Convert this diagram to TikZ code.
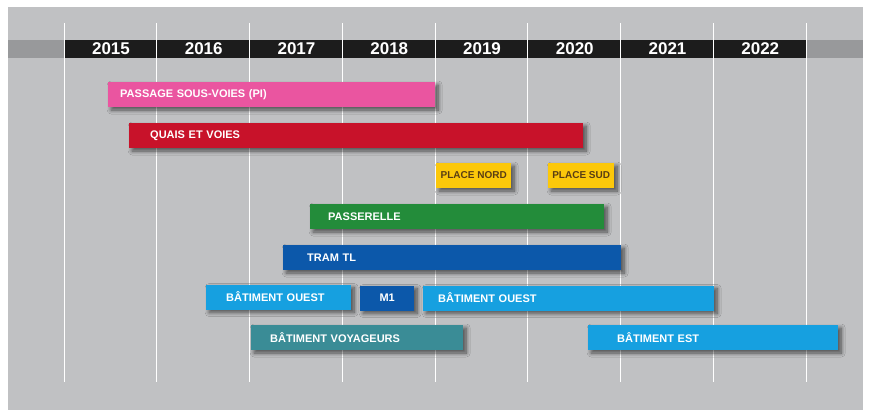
\documentclass[tikz,border=0pt]{standalone}
\usepackage{fontspec}
\setsansfont{Liberation Sans}
\usetikzlibrary{shadows.blur}

\definecolor{fond}{RGB}{192,193,195}
\definecolor{bande}{RGB}{152,153,155}
\definecolor{noir}{RGB}{28,28,28}
\definecolor{rose}{RGB}{234,85,160}
\definecolor{rouge}{RGB}{200,18,42}
\definecolor{jaune}{RGB}{252,200,10}
\definecolor{brun}{RGB}{90,62,20}
\definecolor{vert}{RGB}{35,140,58}
\definecolor{bleufonce}{RGB}{12,88,170}
\definecolor{bleuclair}{RGB}{22,160,224}
\definecolor{turquoise}{RGB}{58,140,150}

\tikzset{
  bar/.style={rectangle, anchor=west, minimum height=25pt, inner ysep=0pt,
    align=left, text=white, font=\sffamily\bfseries\fontsize{11}{13}\selectfont,
    blur shadow={shadow xshift=3pt, shadow yshift=-3pt, shadow opacity=60,
      shadow blur radius=4pt, shadow blur steps=10}},
  year/.style={text=white, font=\sffamily\bfseries\fontsize{17}{19}\selectfont},
}

\begin{document}
\begin{tikzpicture}[x=1pt, y=-1pt]
\useasboundingbox (0,0) rectangle (869,410);
\fill[fond] (8,7) rectangle (863,410);
\fill[bande] (8,40) rectangle (863,58);
\fill[noir] (64,40) rectangle (806,58);
\foreach \i in {0,...,8}
  \draw[white, line width=1pt] (64+92.75*\i,23) -- (64+92.75*\i,382);
\foreach \an [count=\i from 0] in {2015,2016,2017,2018,2019,2020,2021,2022}
  \node[year] (y\an) at (64+92.75*\i+47,49) {\an};

\node[bar, fill=rose, inner xsep=12pt, text width=303pt] (pi) at (108,94.5) {PASSAGE SOUS-VOIES (PI)};
\node[bar, fill=rouge, inner xsep=21pt, text width=412pt] (quais) at (129,135.5) {QUAIS ET VOIES};
\node[bar, fill=jaune, text=brun, minimum width=75pt, inner xsep=0pt, font=\sffamily\bfseries\fontsize{10}{12}\selectfont] (nord) at (436,175.5) {PLACE NORD};
\node[bar, fill=jaune, text=brun, minimum width=66pt, inner xsep=0pt, font=\sffamily\bfseries\fontsize{10}{12}\selectfont] (sud) at (548,175.5) {PLACE SUD};
\node[bar, fill=vert, inner xsep=18pt, text width=258pt] (passerelle) at (310,216.5) {PASSERELLE};
\node[bar, fill=bleufonce, inner xsep=24pt, text width=290pt] (tram) at (283,257.5) {TRAM TL};
\node[bar, fill=bleuclair, inner xsep=20pt, text width=105pt] (ouest1) at (206,297) {BÂTIMENT OUEST};
\node[bar, fill=bleufonce, minimum width=54pt, inner xsep=0pt] (m1) at (360,298) {M1};
\node[bar, fill=bleuclair, inner xsep=15pt, text width=261pt] (ouest2) at (423,298) {BÂTIMENT OUEST};
\node[bar, fill=turquoise, inner xsep=19pt, text width=174pt] (voyageurs) at (251,337.5) {BÂTIMENT VOYAGEURS};
\node[bar, fill=bleuclair, inner xsep=29pt, text width=192pt] (est) at (588,337.5) {BÂTIMENT EST};
\end{tikzpicture}
\end{document}
